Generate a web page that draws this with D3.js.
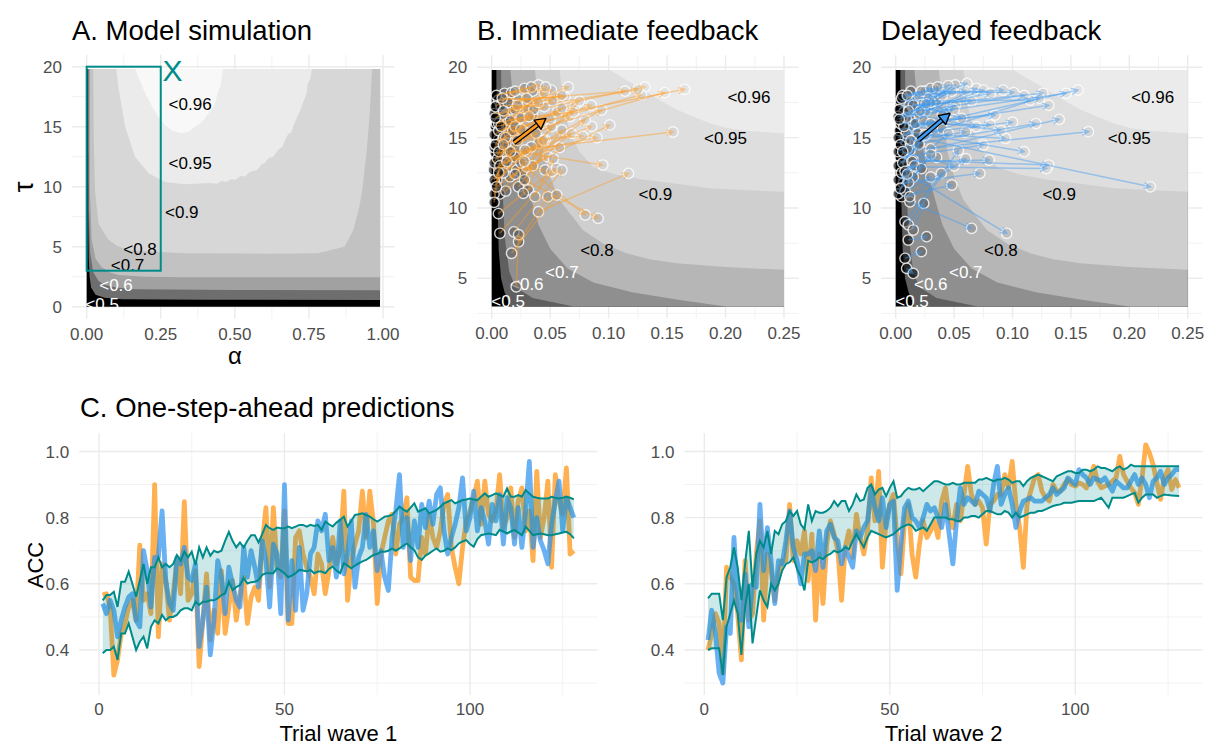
<!DOCTYPE html>
<html><head><meta charset="utf-8">
<script src="https://cdn.jsdelivr.net/npm/d3@7"></script>
<style>body{margin:0;background:#fff}</style>
</head><body><svg id="c" width="1206" height="747"></svg>
<script>
// ---------------- DATA ----------------
const trials = d3.range(1, 129);
const wave1Immediate = [0.566,0.57,0.53,0.324,0.37,0.45,0.48,0.53,0.55,0.49,0.717,0.55,0.57,0.51,0.9,0.44,0.66,0.61,0.49,0.57,0.67,0.57,0.848,0.55,0.57,0.64,0.35,0.49,0.63,0.43,0.52,0.45,0.64,0.45,0.53,0.61,0.49,0.57,0.62,0.48,0.56,0.59,0.55,0.72,0.83,0.59,0.83,0.65,0.62,0.82,0.48,0.48,0.74,0.76,0.69,0.65,0.62,0.57,0.69,0.66,0.57,0.64,0.74,0.66,0.7,0.88,0.55,0.67,0.72,0.76,0.88,0.74,0.88,0.78,0.54,0.69,0.74,0.79,0.81,0.69,0.78,0.8,0.86,0.62,0.61,0.61,0.74,0.69,0.81,0.74,0.71,0.76,0.84,0.87,0.71,0.65,0.6,0.71,0.79,0.82,0.86,0.91,0.78,0.91,0.81,0.79,0.82,0.93,0.77,0.8,0.89,0.74,0.85,0.89,0.76,0.82,0.67,0.94,0.74,0.8,0.91,0.65,0.93,0.85,0.81,0.95,0.69,0.7];
const wave1Delayed = [0.54,0.51,0.55,0.52,0.44,0.49,0.53,0.56,0.57,0.49,0.47,0.7,0.64,0.53,0.68,0.68,0.82,0.61,0.54,0.52,0.68,0.66,0.71,0.62,0.61,0.66,0.41,0.49,0.59,0.385,0.49,0.67,0.62,0.51,0.65,0.6,0.55,0.53,0.71,0.62,0.7,0.65,0.59,0.73,0.67,0.53,0.72,0.69,0.51,0.9,0.49,0.67,0.52,0.71,0.52,0.57,0.69,0.71,0.79,0.76,0.81,0.67,0.71,0.62,0.79,0.63,0.69,0.79,0.59,0.68,0.71,0.81,0.71,0.76,0.64,0.7,0.62,0.58,0.74,0.82,0.93,0.71,0.8,0.67,0.79,0.71,0.84,0.77,0.85,0.78,0.87,0.89,0.76,0.69,0.74,0.78,0.83,0.92,0.76,0.8,0.88,0.76,0.83,0.79,0.72,0.84,0.79,0.87,0.72,0.86,0.83,0.72,0.83,0.71,0.82,0.97,0.71,0.8,0.73,0.7,0.66,0.78,0.85,0.91,0.76,0.86,0.83,0.8];
const wave1Upper = [0.55,0.566,0.566,0.576,0.53,0.606,0.606,0.637,0.6,0.561,0.61,0.66,0.6,0.65,0.65,0.68,0.65,0.66,0.65,0.66,0.687,0.67,0.697,0.68,0.697,0.657,0.71,0.68,0.71,0.685,0.7,0.695,0.7,0.73,0.757,0.73,0.71,0.725,0.71,0.73,0.747,0.747,0.725,0.75,0.778,0.768,0.763,0.77,0.768,0.768,0.773,0.768,0.773,0.778,0.778,0.773,0.778,0.775,0.778,0.763,0.788,0.78,0.773,0.785,0.793,0.803,0.773,0.79,0.808,0.81,0.813,0.808,0.803,0.795,0.788,0.795,0.803,0.805,0.808,0.82,0.833,0.825,0.818,0.83,0.843,0.818,0.823,0.828,0.813,0.818,0.823,0.833,0.843,0.848,0.853,0.843,0.848,0.853,0.855,0.858,0.855,0.853,0.863,0.873,0.863,0.868,0.873,0.868,0.863,0.888,0.863,0.863,0.868,0.863,0.883,0.873,0.863,0.86,0.858,0.858,0.858,0.863,0.86,0.858,0.86,0.863,0.86,0.855];
const wave1Lower = [0.39,0.4,0.4,0.41,0.37,0.45,0.45,0.48,0.44,0.4,0.425,0.44,0.405,0.47,0.49,0.48,0.506,0.49,0.5,0.5,0.506,0.52,0.526,0.526,0.52,0.546,0.536,0.546,0.546,0.55,0.55,0.556,0.566,0.571,0.606,0.581,0.59,0.596,0.617,0.601,0.605,0.606,0.611,0.627,0.632,0.632,0.632,0.647,0.64,0.632,0.62,0.625,0.632,0.642,0.64,0.637,0.642,0.632,0.637,0.637,0.632,0.645,0.652,0.64,0.632,0.662,0.655,0.647,0.655,0.662,0.668,0.672,0.68,0.687,0.69,0.697,0.697,0.7,0.707,0.7,0.707,0.715,0.722,0.71,0.702,0.68,0.672,0.685,0.692,0.7,0.707,0.697,0.7,0.707,0.702,0.71,0.722,0.728,0.732,0.72,0.712,0.735,0.747,0.75,0.752,0.75,0.747,0.763,0.758,0.752,0.758,0.763,0.755,0.747,0.773,0.76,0.747,0.75,0.752,0.75,0.747,0.747,0.75,0.752,0.755,0.757,0.75,0.737];
const wave2Immediate = [0.4,0.45,0.51,0.48,0.33,0.65,0.62,0.6,0.51,0.37,0.67,0.49,0.51,0.69,0.79,0.49,0.69,0.64,0.55,0.63,0.67,0.67,0.84,0.67,0.73,0.69,0.76,0.61,0.75,0.49,0.69,0.54,0.72,0.79,0.75,0.7,0.55,0.71,0.76,0.68,0.81,0.74,0.69,0.76,0.92,0.79,0.94,0.65,0.79,0.84,0.87,0.73,0.63,0.79,0.84,0.69,0.62,0.72,0.79,0.74,0.76,0.79,0.74,0.85,0.89,0.8,0.77,0.84,0.79,0.87,0.955,0.87,0.84,0.85,0.83,0.72,0.84,0.85,0.87,0.87,0.93,0.89,0.97,0.84,0.77,0.65,0.84,0.88,0.92,0.93,0.88,0.86,0.85,0.9,0.88,0.88,0.9,0.915,0.9,0.895,0.905,0.9,0.89,0.92,0.955,0.91,0.89,0.895,0.9,0.91,0.92,0.985,0.93,0.91,0.89,0.875,0.84,0.92,1.02,0.995,0.96,0.905,0.855,0.92,0.945,0.885,0.915,0.89];
const wave2Delayed = [0.43,0.52,0.45,0.33,0.3,0.47,0.45,0.74,0.55,0.49,0.63,0.47,0.6,0.59,0.84,0.64,0.77,0.67,0.54,0.67,0.66,0.73,0.82,0.71,0.67,0.6,0.69,0.69,0.7,0.64,0.76,0.65,0.76,0.78,0.74,0.73,0.66,0.71,0.68,0.65,0.76,0.74,0.77,0.79,0.89,0.83,0.79,0.86,0.77,0.84,0.85,0.58,0.72,0.83,0.85,0.8,0.79,0.77,0.8,0.84,0.82,0.83,0.8,0.77,0.84,0.75,0.66,0.79,0.89,0.84,0.86,0.85,0.84,0.88,0.87,0.86,0.82,0.9,0.955,0.84,0.87,0.89,0.84,0.77,0.82,0.85,0.855,0.86,0.85,0.85,0.85,0.86,0.87,0.89,0.87,0.88,0.89,0.92,0.91,0.9,0.945,0.93,0.92,0.9,0.92,0.915,0.91,0.92,0.9,0.88,0.91,0.9,0.89,0.89,0.91,0.93,0.9,0.92,0.9,0.86,0.91,0.92,0.94,0.9,0.92,0.93,0.945,0.945];
const wave2Upper = [0.556,0.57,0.57,0.57,0.49,0.62,0.65,0.71,0.65,0.55,0.66,0.76,0.59,0.69,0.73,0.71,0.76,0.69,0.76,0.75,0.78,0.79,0.82,0.805,0.82,0.78,0.765,0.84,0.79,0.82,0.815,0.815,0.82,0.83,0.85,0.835,0.85,0.85,0.82,0.84,0.87,0.85,0.855,0.89,0.9,0.87,0.885,0.89,0.865,0.89,0.91,0.86,0.865,0.88,0.89,0.885,0.885,0.89,0.88,0.89,0.9,0.91,0.91,0.905,0.9,0.9,0.905,0.9,0.9,0.905,0.905,0.905,0.905,0.915,0.915,0.92,0.915,0.91,0.915,0.915,0.92,0.915,0.905,0.91,0.91,0.895,0.91,0.92,0.925,0.93,0.925,0.92,0.915,0.91,0.925,0.93,0.935,0.94,0.94,0.935,0.935,0.945,0.945,0.94,0.945,0.955,0.95,0.95,0.945,0.94,0.95,0.955,0.945,0.95,0.96,0.955,0.955,0.955,0.955,0.955,0.955,0.955,0.955,0.955,0.955,0.955,0.955,0.955];
const wave2Lower = [0.4,0.405,0.405,0.405,0.325,0.47,0.51,0.55,0.51,0.385,0.53,0.6,0.42,0.5,0.58,0.55,0.53,0.6,0.58,0.6,0.64,0.66,0.665,0.68,0.645,0.62,0.58,0.67,0.665,0.67,0.68,0.675,0.685,0.69,0.7,0.695,0.7,0.71,0.705,0.73,0.75,0.73,0.71,0.74,0.76,0.755,0.75,0.745,0.74,0.745,0.75,0.76,0.77,0.775,0.78,0.775,0.76,0.765,0.77,0.76,0.78,0.8,0.8,0.8,0.8,0.795,0.795,0.79,0.79,0.8,0.8,0.805,0.805,0.8,0.81,0.82,0.82,0.815,0.81,0.81,0.82,0.815,0.8,0.815,0.8,0.805,0.81,0.815,0.815,0.82,0.82,0.825,0.83,0.835,0.838,0.84,0.845,0.845,0.845,0.848,0.85,0.85,0.85,0.85,0.85,0.855,0.86,0.845,0.83,0.86,0.86,0.86,0.86,0.865,0.87,0.875,0.845,0.86,0.87,0.87,0.87,0.86,0.865,0.87,0.868,0.867,0.866,0.865];

// contour regions (alpha, tau) of panel A: simulated area, then regions >= each level
const areaA = [[0,0],[0.99,0],[0.99,19.8],[0,19.8]];
const contourA50 = [[0.004,19.8],[0.005,8],[0.007,4],[0.01,2.5],[0.015,1.6],[0.03,1.0],[0.06,0.75],[0.12,0.62],[0.4,0.58],[0.99,0.56],[0.99,19.8]];
const contourA60 = [[0.007,19.8],[0.008,8],[0.012,4.5],[0.022,2.9],[0.04,2.15],[0.062,1.8],[0.1,1.6],[0.163,1.45],[0.5,1.4],[0.99,1.38],[0.99,19.8]];
const contourA70 = [[0.011,19.8],[0.011,9.7],[0.017,5.6],[0.03,4.0],[0.05,3.3],[0.075,2.9],[0.107,2.65],[0.2,2.5],[0.33,2.45],[0.99,2.45],[0.99,19.8]];
const contourA80 = [[0.022,19.8],[0.024,14],[0.028,9.7],[0.04,6.9],[0.073,5.6],[0.1,5.1],[0.14,4.7],[0.33,4.45],[0.6,4.42],[0.78,4.45],[0.87,5.0],[0.9,6.4],[0.92,8.3],[0.93,9.7],[0.945,13],[0.955,16],[0.963,19.8]];
const contourA90 = [[0.1,19.8],[0.107,18.3],[0.13,15],[0.163,12.5],[0.21,11.1],[0.265,10.4],[0.33,10.2],[0.42,10.3],[0.44,10.25],[0.455,10.5],[0.47,10.4],[0.49,10.65],[0.5,10.55],[0.52,10.9],[0.535,10.85],[0.546,11.15],[0.56,11.3],[0.575,11.4],[0.59,11.85],[0.6,11.95],[0.615,12.4],[0.63,12.5],[0.647,13.1],[0.66,13.3],[0.67,13.9],[0.68,14.4],[0.69,14.5],[0.7,15.2],[0.715,16.1],[0.72,16.3],[0.73,17.0],[0.743,17.8],[0.745,18.5],[0.755,19.0],[0.76,19.8]];
const contourA95 = [[0.163,19.8],[0.18,18.8],[0.197,17.8],[0.22,16.7],[0.242,15.8],[0.265,15.1],[0.287,14.7],[0.32,14.45],[0.345,14.6],[0.366,15.0],[0.38,15.2],[0.4,15.7],[0.41,16.1],[0.425,16.5],[0.433,16.9],[0.44,17.6],[0.45,18.3],[0.455,18.9],[0.46,19.8]];
// contour regions of panels B and delayed
const areaB = [[0,3],[0.25,3],[0.25,19.8],[0,19.8]];
const contourB50 = [[0.004,19.8],[0.004,14],[0.005,10],[0.006,7],[0.008,5],[0.011,4],[0.016,3],[0.25,3],[0.25,19.8]];
const contourB60 = [[0.008,19.8],[0.009,12],[0.011,8],[0.015,5.5],[0.02,4.4],[0.035,3.6],[0.07,3],[0.25,3],[0.25,19.8]];
const contourB70 = [[0.016,19.8],[0.02,16],[0.025,13.5],[0.03,11.7],[0.04,8.8],[0.05,7.1],[0.065,5.7],[0.087,4.7],[0.12,4.0],[0.158,3.5],[0.2,3],[0.25,3],[0.25,19.8]];
const contourB80 = [[0.037,19.8],[0.044,14.1],[0.05,12.2],[0.058,10.56],[0.078,8.43],[0.095,7.5],[0.115,6.78],[0.135,6.35],[0.158,6.07],[0.2,5.8],[0.25,5.6],[0.25,19.8]];
const contourB90 = [[0.058,19.8],[0.061,17.5],[0.067,15.3],[0.075,14],[0.087,12.9],[0.105,12.4],[0.13,12],[0.16,11.7],[0.187,11.4],[0.22,11.25],[0.25,11.15],[0.25,19.8]];
const contourB95 = [[0.101,19.8],[0.115,19.1],[0.13,18.4],[0.145,17.6],[0.158,17],[0.172,16.5],[0.187,16],[0.2,15.7],[0.215,15.5],[0.25,15.3],[0.25,19.8]];

const contourLabelsA = [[0.349,16.9,"<0.96"],[0.349,11.97,"<0.95"],[0.321,7.87,"<0.9"],[0.18,4.8,"<0.8"],[0.138,3.45,"<0.7"],[0.099,1.8,"<0.6"],[0.052,0.2,"<0.5"]];
const contourLabelsB = [[0.22,17.9,"<0.96"],[0.2,14.95,"<0.95"],[0.14,11.0,"<0.9"],[0.09,7.0,"<0.8"],[0.06,5.47,"<0.7"],[0.03,4.62,"<0.6"],[0.014,3.38,"<0.5"]];

const regionAlpha = [0, 0.25];
const regionTau = [3, 20];
const regionLabel = [0.29, 19.7, "X"];

// parameter estimates per participant: start and end (alpha, tau)
const immediateStart = [[0.0029,15.78],[0.0057,14.83],[0.011,16.5],[0.0086,15.3],[0.017,17.0],[0.023,17.7],[0.0029,13.9],[0.0142,14.12],[0.04,9.73],[0.0114,13.17],[0.0157,12.22],[0.02,13.64],[0.0214,12.7],[0.0043,11.96],[0.031,17.44],[0.0057,17.67],[0.011,18.15],[0.017,18.2],[0.0257,12.46],[0.0228,11.5],[0.007,11.0],[0.0313,11.28],[0.027,11.04],[0.0014,12.7],[0.0029,11.75],[0.03,12.93],[0.037,10.8],[0.0057,12.9],[0.0057,9.6],[0.007,8.2],[0.019,8.3],[0.023,7.6],[0.017,6.78],[0.021,4.4],[0.025,13.2],[0.028,12.0],[0.002,16.7],[0.002,15.2],[0.002,14.3],[0.002,13.2],[0.002,12.0],[0.002,11.0],[0.002,10.4],[0.004,16.0],[0.008,17.3],[0.013,16.0],[0.006,15.5],[0.01,15.0],[0.015,15.3],[0.009,14.0],
  [0.003,17.2],[0.004,18.0],[0.006,16.0],[0.008,15.8],[0.003,14.5],[0.005,13.5],[0.007,13.0],[0.01,12.5],[0.012,14.6],[0.014,17.5],[0.016,16.2],[0.018,15.5],[0.02,17.0],[0.009,17.8],[0.003,16.4],[0.012,11.2],[0.004,11.5],[0.006,14.0],[0.024,16.4],[0.027,15.5],[0.03,14.0],[0.022,14.8],[0.013,13.3],[0.01,16.9],[0.035,18.3]];
const immediateEnd = [[0.165,18.43],[0.148,18.2],[0.131,18.6],[0.128,18.05],[0.125,18.4],[0.114,18.3],[0.155,15.4],[0.095,13.05],[0.117,12.46],[0.094,16.96],[0.101,15.9],[0.0855,15.8],[0.08,16.25],[0.071,17.2],[0.0655,18.6],[0.0627,17.9],[0.051,18.38],[0.04,18.74],[0.068,15.3],[0.06,15.54],[0.051,15.78],[0.0456,14.83],[0.04,14.6],[0.034,14.35],[0.0285,14.12],[0.048,13.64],[0.0527,13.5],[0.0456,12.7],[0.0513,12.58],[0.0556,12.82],[0.06,12.7],[0.048,10.8],[0.0556,10.92],[0.023,8.1],[0.08,9.5],[0.091,9.26],[0.031,17.0],[0.025,16.4],[0.02,15.8],[0.012,15.0],[0.016,14.0],[0.01,14.5],[0.006,12.5],[0.035,16.6],[0.045,17.2],[0.056,16.8],[0.05,16.3],[0.06,17.1],[0.075,17.6],[0.067,16.5],
  [0.02,18.3],[0.028,18.5],[0.034,18.6],[0.045,18.2],[0.03,17.8],[0.036,17.0],[0.042,16.0],[0.025,15.6],[0.038,15.3],[0.055,17.9],[0.032,16.5],[0.044,14.8],[0.06,18.0],[0.052,17.6],[0.022,17.3],[0.035,13.0],[0.02,12.4],[0.028,13.3],[0.07,16.8],[0.085,17.3],[0.09,15.0],[0.078,15.1],[0.058,14.3],[0.04,17.5],[0.046,18.6]];
const delayedStart = [[0.003,15.5],[0.006,16.5],[0.01,17.2],[0.008,14.8],[0.012,15.8],[0.015,17.6],[0.02,18.0],[0.025,18.3],[0.0122,14.1],[0.015,13.4],[0.0094,12.93],[0.018,15.0],[0.0122,10.44],[0.015,12.2],[0.0065,11.75],[0.005,10.8],[0.004,16.0],[0.009,15.3],[0.0037,13.6],[0.007,16.8],[0.011,17.5],[0.014,16.2],[0.017,17.0],[0.023,17.4],[0.028,17.8],[0.02,16.6],[0.026,16.9],[0.03,17.3],[0.008,9.02],[0.0108,8.8],[0.015,8.43],[0.0108,7.72],[0.008,6.42],[0.0094,5.71],[0.002,15.0],[0.002,14.0],[0.002,13.0],[0.002,12.0],[0.002,11.0],[0.002,16.5],[0.004,17.6],[0.006,18.0],[0.013,18.3],[0.01,14.2],[0.005,12.5],[0.008,11.2],
  [0.003,17.0],[0.005,17.8],[0.007,15.8],[0.009,16.4],[0.004,14.5],[0.006,13.2],[0.008,12.6],[0.011,11.8],[0.013,14.8],[0.015,17.3],[0.017,16.0],[0.019,15.3],[0.021,16.9],[0.01,18.0],[0.003,16.3],[0.012,10.8],[0.004,11.4],[0.006,14.0],[0.024,16.2],[0.026,15.2],[0.03,14.2],[0.02,14.6],[0.014,13.3],[0.011,16.9],[0.034,18.4]];
const delayedEnd = [[0.156,18.38],[0.146,18.15],[0.126,18.15],[0.123,17.8],[0.131,17.3],[0.115,17.67],[0.092,18.38],[0.101,18.2],[0.165,15.42],[0.131,13.05],[0.129,12.8],[0.218,11.5],[0.065,8.55],[0.095,8.2],[0.072,12.46],[0.048,11.63],[0.081,15.9],[0.094,14.95],[0.075,14.47],[0.069,15.78],[0.0565,16.37],[0.051,17.3],[0.0437,18.38],[0.051,18.74],[0.061,18.85],[0.069,18.5],[0.075,18.38],[0.081,18.15],[0.039,12.46],[0.0536,14.1],[0.024,10.33],[0.0265,7.96],[0.022,6.9],[0.015,5.35],[0.03,16.0],[0.025,15.2],[0.02,14.5],[0.016,13.0],[0.01,12.4],[0.035,17.6],[0.04,18.0],[0.033,18.4],[0.045,16.8],[0.04,15.6],[0.035,13.6],[0.03,12.2],
  [0.022,18.3],[0.03,18.5],[0.036,18.6],[0.048,18.3],[0.03,17.5],[0.04,16.6],[0.045,15.3],[0.03,13.8],[0.06,15.4],[0.065,17.6],[0.085,16.6],[0.1,16.1],[0.11,18.0],[0.06,18.3],[0.026,17.4],[0.06,13.5],[0.022,12.8],[0.05,13.0],[0.09,15.5],[0.11,14.0],[0.14,16.3],[0.12,16.0],[0.08,13.4],[0.05,17.0],[0.045,18.7]];
const immediateMean = [[0.019,14.64],[0.0464,16.37]];
const delayedMean = [[0.0194,14.83],[0.0465,16.73]];

// axis ticks
const alphaTicksA = [0, 0.25, 0.5, 0.75, 1], alphaLabelsA = ["0.00","0.25","0.50","0.75","1.00"];
const tauTicksA = [0, 5, 10, 15, 20], tauLabelsA = ["0","5","10","15","20"];
const alphaTicksB = [0, 0.05, 0.1, 0.15, 0.2, 0.25], alphaLabelsB = ["0.00","0.05","0.10","0.15","0.20","0.25"];
const tauTicksB = [5, 10, 15, 20], tauLabelsB = ["5","10","15","20"];
const trialTicks = [0, 50, 100], trialLabels = ["0","50","100"];
const accTicks = [0.4, 0.6, 0.8, 1.0], accLabels = ["0.4","0.6","0.8","1.0"];

// ---------------- DRAW ----------------
const FONT = '"Liberation Sans", Arial, Helvetica, sans-serif';
const svg = d3.select("#c").style("font-family", FONT);
svg.append("rect").attr("width", 1206).attr("height", 747).attr("fill", "#fff");
const TEAL = "#008B8B";
const greysA = ["#000000", "#6e6e6e", "#a1a1a1", "#c2c2c2", "#d7d7d7", "#ebebeb", "#f8f8f8"];
const greysB = ["#000000", "#5f5f5f", "#8f8f8f", "#b6b6b6", "#cfcfcf", "#dedede", "#ebebeb"];
const TICK = 17;

function mids(t) { const m = []; for (let i = 0; i < t.length - 1; i++) m.push((t[i] + t[i+1]) / 2); return m; }

function grid(x, y, xMaj, yMaj, xMin, yMin) {
  const g = svg.append("g");
  const [xa, xb] = x.range(), [ya, yb] = y.range();
  xMin.forEach(v => g.append("line").attr("x1", x(v)).attr("x2", x(v)).attr("y1", ya).attr("y2", yb).attr("stroke", "#f1f1f1").attr("stroke-width", 0.9));
  yMin.forEach(v => g.append("line").attr("y1", y(v)).attr("y2", y(v)).attr("x1", xa).attr("x2", xb).attr("stroke", "#f1f1f1").attr("stroke-width", 0.9));
  xMaj.forEach(v => g.append("line").attr("x1", x(v)).attr("x2", x(v)).attr("y1", ya).attr("y2", yb).attr("stroke", "#ebebeb").attr("stroke-width", 1.4));
  yMaj.forEach(v => g.append("line").attr("y1", y(v)).attr("y2", y(v)).attr("x1", xa).attr("x2", xb).attr("stroke", "#ebebeb").attr("stroke-width", 1.4));
}
function ticks(x, y, xt, xl, yt, yl, gap) {
  const [xa] = x.range(), [ya] = y.range();
  xt.forEach((v, i) => svg.append("text").attr("x", x(v)).attr("y", ya + gap).attr("text-anchor", "middle").attr("font-size", TICK).attr("fill", "#4d4d4d").text(xl[i]));
  yt.forEach((v, i) => svg.append("text").attr("x", xa - 10).attr("y", y(v)).attr("dy", "0.36em").attr("text-anchor", "end").attr("font-size", TICK).attr("fill", "#4d4d4d").text(yl[i]));
}
function polyPath(x, y, p) { return d3.line().x(d => x(d[0])).y(d => y(d[1]))(p) + "Z"; }
function contours(x, y, area, regions, greys) {
  const g = svg.append("g");
  g.append("path").attr("d", polyPath(x, y, area)).attr("fill", greys[0]);
  regions.forEach((p, i) => g.append("path").attr("d", polyPath(x, y, p)).attr("fill", greys[i + 1]));
}
function labels(x, y, labs, whites) {
  labs.forEach(l => svg.append("text").attr("x", x(l[0])).attr("y", y(l[1])).attr("dy", "0.36em").attr("text-anchor", "middle")
    .attr("font-size", 17).attr("fill", whites.includes(l[2]) ? "#fff" : "#000").text(l[2]));
}
function bandIndex(pt, regions) {
  for (let i = regions.length - 1; i >= 0; i--) if (d3.polygonContains(regions[i], pt)) return i + 1;
  return 0;
}
function arrows(x, y, starts, ends, regions, greys, color, op) {
  const g = svg.append("g");
  starts.concat(ends).forEach(p => {
    const b = bandIndex(p, regions);
    g.append("circle").attr("cx", x(p[0])).attr("cy", y(p[1])).attr("r", 5.2)
      .attr("fill", greys[Math.max(0, b - 1)]).attr("fill-opacity", 0.6)
      .attr("stroke", "#fff").attr("stroke-opacity", 0.8).attr("stroke-width", 1.4);
  });
  starts.forEach((s, i) => {
    const e = ends[i];
    const x1 = x(s[0]), y1 = y(s[1]), x2 = x(e[0]), y2 = y(e[1]);
    const a = Math.atan2(y2 - y1, x2 - x1), L = 7, w = 0.45;
    g.append("path").attr("d", `M${x1},${y1}L${x2},${y2}M${x2 - L * Math.cos(a - w)},${y2 - L * Math.sin(a - w)}L${x2},${y2}L${x2 - L * Math.cos(a + w)},${y2 - L * Math.sin(a + w)}`)
      .attr("fill", "none").attr("stroke", color).attr("stroke-opacity", op).attr("stroke-width", 1.5);
  });
}
function meanArrow(x, y, m, color) {
  const x1 = x(m[0][0]), y1 = y(m[0][1]), x2 = x(m[1][0]), y2 = y(m[1][1]);
  const a = Math.atan2(y2 - y1, x2 - x1), L = 12, w = 0.5;
  const bx = x2 - L * 0.8 * Math.cos(a), by = y2 - L * 0.8 * Math.sin(a);
  svg.append("line").attr("x1", x1).attr("y1", y1).attr("x2", bx).attr("y2", by).attr("stroke", "#000").attr("stroke-width", 5);
  svg.append("line").attr("x1", x1).attr("y1", y1).attr("x2", bx).attr("y2", by).attr("stroke", color).attr("stroke-width", 2.6);
  svg.append("path").attr("d", `M${x2},${y2}L${x2 - L * Math.cos(a - w)},${y2 - L * Math.sin(a - w)}L${x2 - L * Math.cos(a + w)},${y2 - L * Math.sin(a + w)}Z`)
    .attr("fill", color).attr("stroke", "#000").attr("stroke-width", 1.4).attr("stroke-linejoin", "round");
}
function title(x, y, t, size) { svg.append("text").attr("x", x).attr("y", y).attr("font-size", size).attr("fill", "#000").text(t); }

// ---- Panel A ----
const xA = d3.scaleLinear().domain([-0.0495, 1.0395]).range([72, 394.7]);
const yA = d3.scaleLinear().domain([-1, 21]).range([318.7, 54.7]);
const regionsA = [contourA50, contourA60, contourA70, contourA80, contourA90, contourA95];
grid(xA, yA, alphaTicksA, tauTicksA, mids(alphaTicksA), mids(tauTicksA));
contours(xA, yA, areaA, regionsA, greysA);
labels(xA, yA, contourLabelsA, ["<0.6", "<0.5"]);
svg.append("rect").attr("x", xA(regionAlpha[0])).attr("y", yA(regionTau[1])).attr("width", xA(regionAlpha[1]) - xA(regionAlpha[0]))
  .attr("height", yA(regionTau[0]) - yA(regionTau[1])).attr("fill", "none").attr("stroke", TEAL).attr("stroke-width", 2);
svg.append("text").attr("x", xA(regionLabel[0])).attr("y", yA(regionLabel[1])).attr("dy", "0.36em").attr("text-anchor", "middle")
  .attr("font-size", 30).attr("fill", TEAL).text(regionLabel[2]);
ticks(xA, yA, alphaTicksA, alphaLabelsA, tauTicksA, tauLabelsA, 21);
svg.append("text").attr("x", 235).attr("y", 364).attr("text-anchor", "middle").attr("font-size", 24).text("α");
svg.append("text").attr("transform", "translate(33,187) rotate(-90)").attr("text-anchor", "middle").attr("font-size", 27).text("τ");
title(72, 40, "A. Model simulation", 27.5);

// ---- Panel B & Delayed ----
const regionsB = [contourB50, contourB60, contourB70, contourB80, contourB90, contourB95];
function paramPanel(x, y, starts, ends, mean, color, op, ttl) {
  grid(x, y, alphaTicksB, tauTicksB, mids(alphaTicksB), [2.5].concat(mids(tauTicksB)));
  contours(x, y, areaB, regionsB, greysB);
  labels(x, y, contourLabelsB, ["<0.7", "<0.6", "<0.5"]);
  arrows(x, y, starts, ends, regionsB, greysB, color, op);
  meanArrow(x, y, mean, color);
  ticks(x, y, alphaTicksB, alphaLabelsB, tauTicksB, tauLabelsB, 21);
  title(x.range()[0], 40, ttl, 27.5);
}
const yB = d3.scaleLinear().domain([2.15, 20.85]).range([318.4, 55.3]);
const xB = d3.scaleLinear().domain([-0.0125, 0.2625]).range([477.1, 798.6]);
const xC = d3.scaleLinear().domain([-0.0125, 0.2625]).range([881.1, 1202.3]);
paramPanel(xB, yB, immediateStart, immediateEnd, immediateMean, "#FF9A1F", 0.42, "B. Immediate feedback");
paramPanel(xC, yB, delayedStart, delayedEnd, delayedMean, "#3D9BF2", 0.45, "Delayed feedback");

// ---- Panel C ----
title(80, 417, "C. One-step-ahead predictions", 27.5);
function tsPanel(x, y, imm, del, up, lo, xt) {
  grid(x, y, trialTicks, accTicks, [25, 75, 125], [0.3, 0.5, 0.7, 0.9]);
  const line = vals => d3.line().x((d, i) => x(trials[i])).y(d => y(d))(vals);
  svg.append("path").attr("d", line(imm)).attr("fill", "none").attr("stroke", "#FF9A1F").attr("stroke-opacity", 0.78).attr("stroke-width", 4.8).attr("stroke-linejoin", "round");
  svg.append("path").attr("d", line(del)).attr("fill", "none").attr("stroke", "#2F93EE").attr("stroke-opacity", 0.72).attr("stroke-width", 4.8).attr("stroke-linejoin", "round");
  const area = d3.area().x((d, i) => x(trials[i])).y0((d, i) => y(lo[i])).y1(d => y(d));
  svg.append("path").attr("d", area(up)).attr("fill", TEAL).attr("fill-opacity", 0.2);
  svg.append("path").attr("d", line(up)).attr("fill", "none").attr("stroke", TEAL).attr("stroke-width", 2);
  svg.append("path").attr("d", line(lo)).attr("fill", "none").attr("stroke", TEAL).attr("stroke-width", 2);
  ticks(x, y, trialTicks, trialLabels, accTicks, accLabels, 20);
  const [xa, xb] = x.range();
  svg.append("text").attr("x", (xa + xb) / 2).attr("y", 741).attr("text-anchor", "middle").attr("font-size", 22).text(xt);
}
const yT = d3.scaleLinear().domain([0.264, 1.056]).range([695, 432.9]);
const xT1 = d3.scaleLinear().domain([-5.35, 134.35]).range([79.15, 597.4]);
const xT2 = d3.scaleLinear().domain([-5.35, 134.35]).range([684.45, 1202.7]);
tsPanel(xT1, yT, wave1Immediate, wave1Delayed, wave1Upper, wave1Lower, "Trial wave 1");
tsPanel(xT2, yT, wave2Immediate, wave2Delayed, wave2Upper, wave2Lower, "Trial wave 2");
svg.append("text").attr("transform", "translate(43,565) rotate(-90)").attr("text-anchor", "middle").attr("font-size", 22).text("ACC");
</script></body></html>
